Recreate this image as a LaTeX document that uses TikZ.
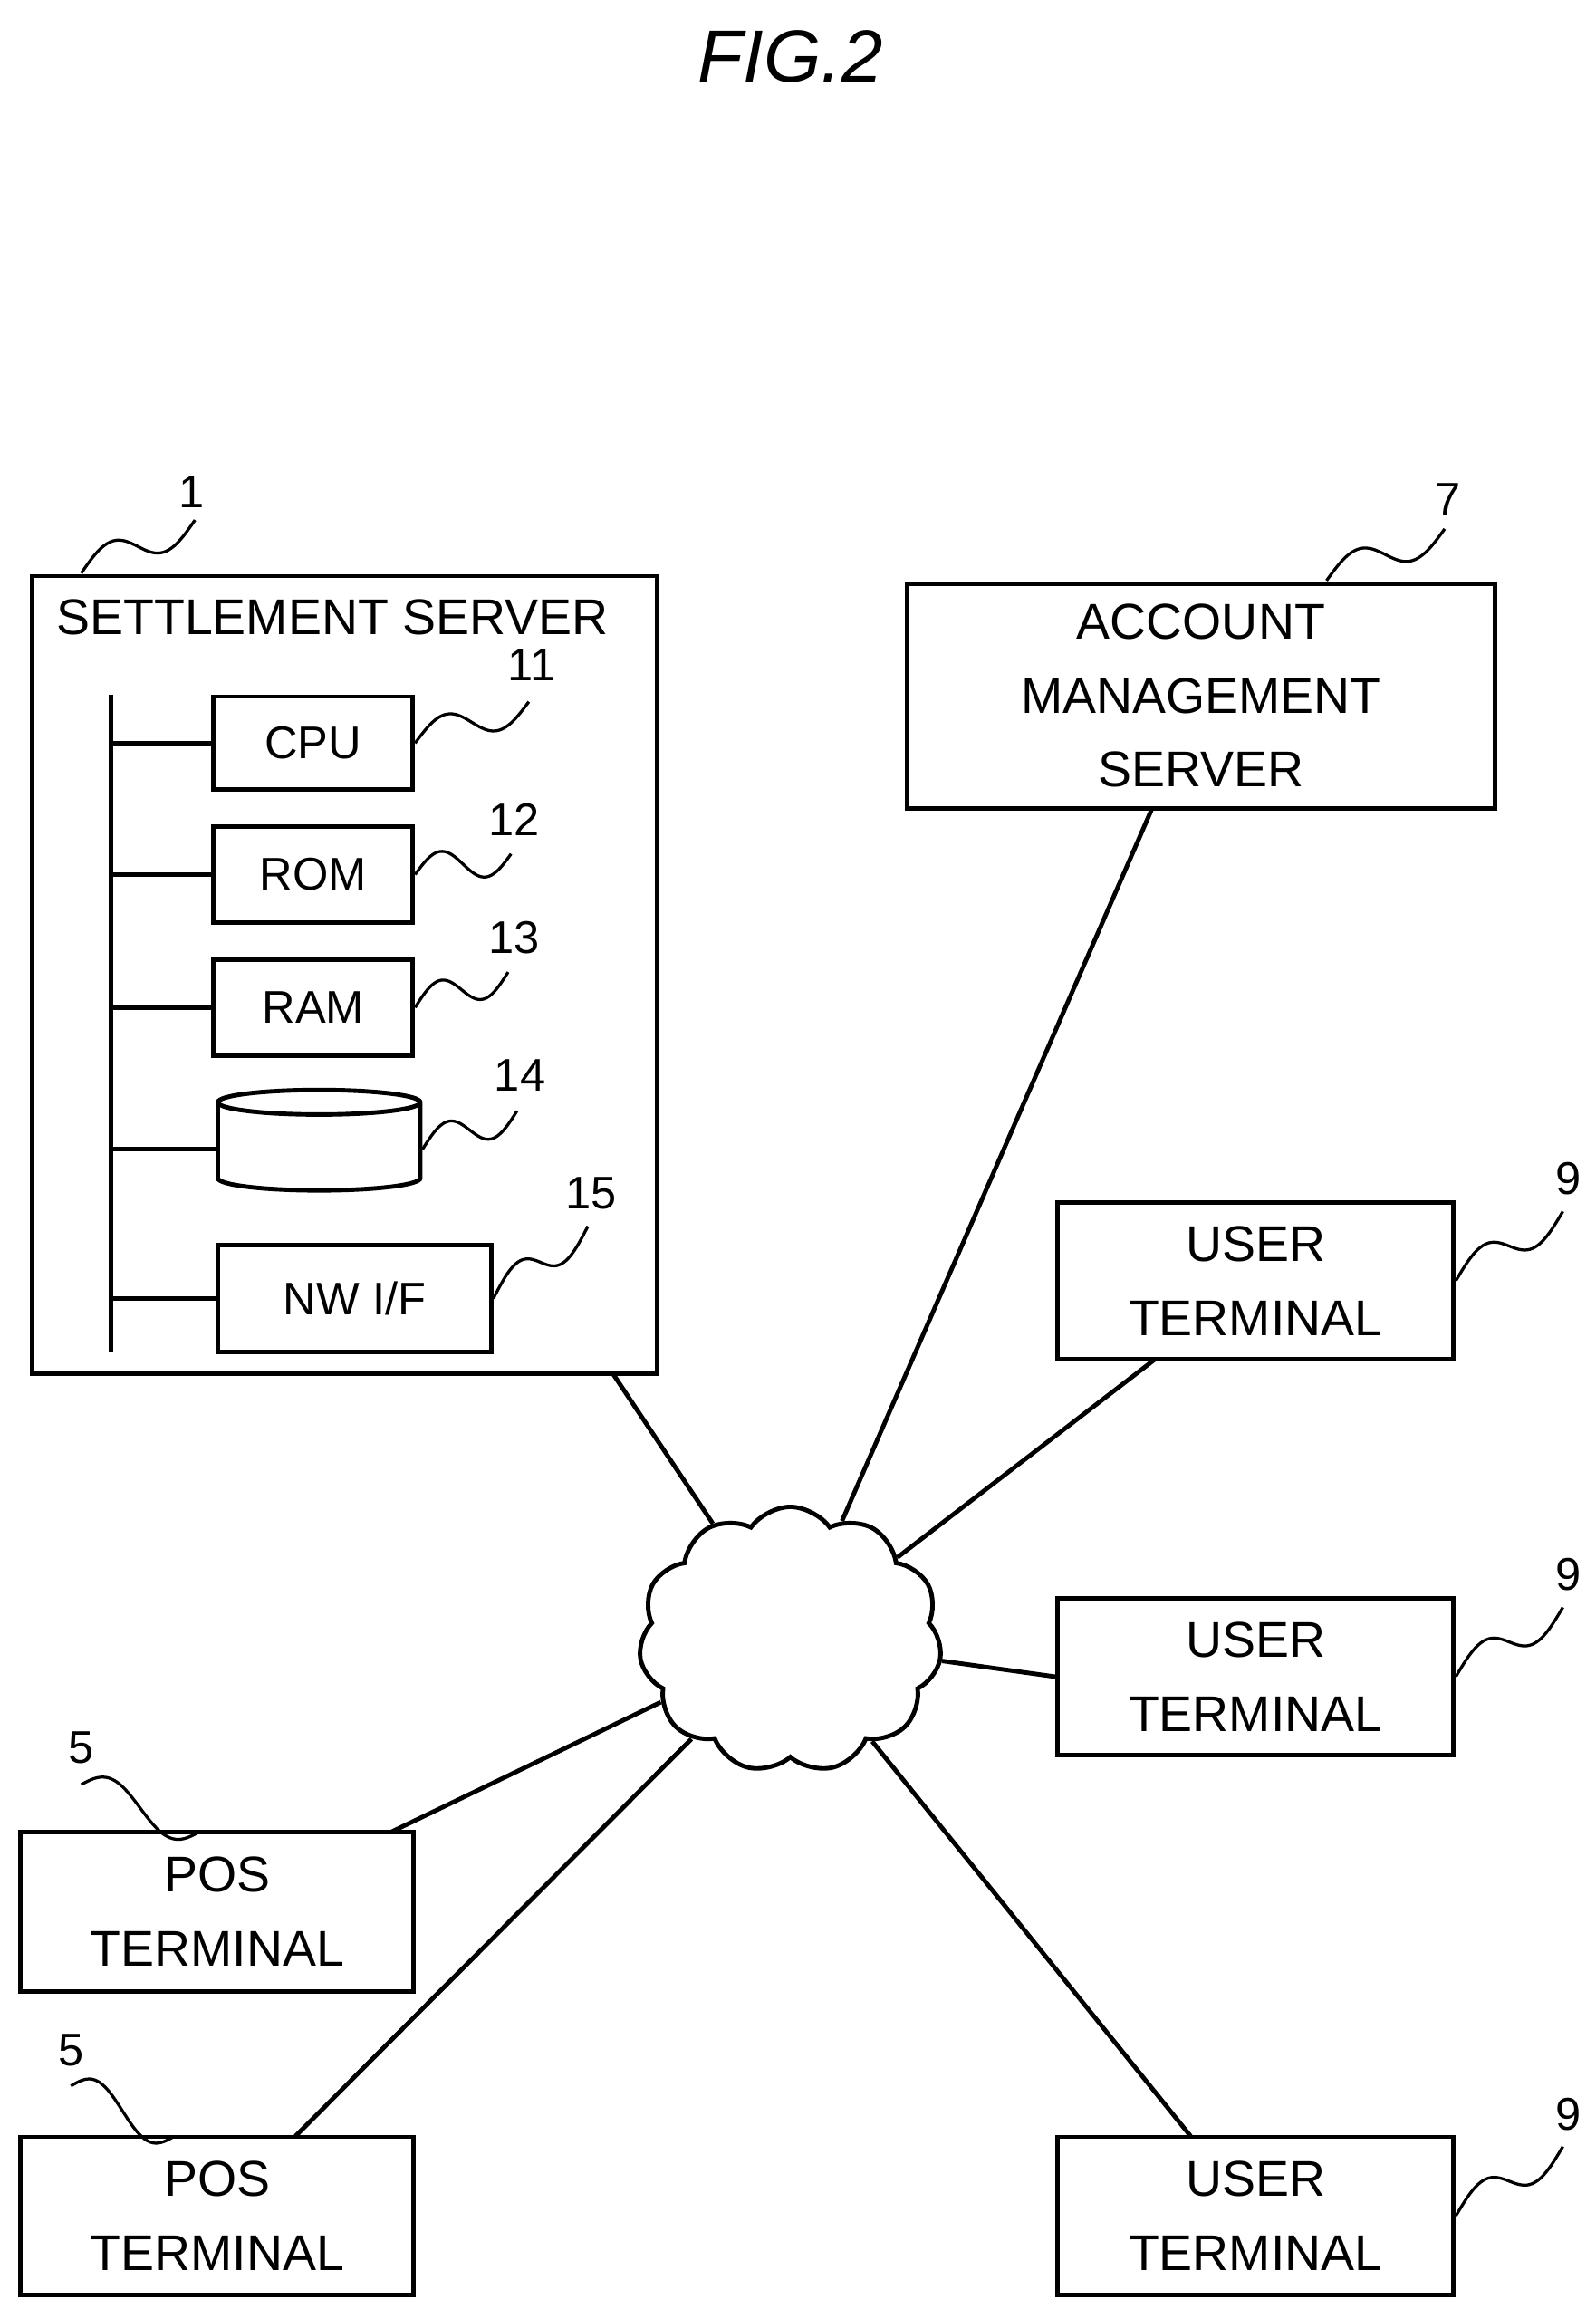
\documentclass[tikz,border=0pt]{standalone}
\usepackage{fontspec}
\setmainfont{Liberation Sans}
\usetikzlibrary{shapes.geometric, shapes.symbols, calc}

\tikzset{
  box/.style = {draw, line width=3pt, align=center, font=\fontsize{34}{50}\selectfont},
  part/.style = {draw, line width=3pt, font=\fontsize{31}{36}\selectfont},
  ref/.style = {font=\fontsize{31}{36}\selectfont},
  link/.style = {line width=3pt}
}
\newcommand{\wavy}[2]{\draw[line width=2pt] let \p1=(#1), \p2=(#2) in
  plot[variable=\t, domain=0:1, samples=40, smooth] ({\x1+(\x2-\x1)*\t}, {\y1+(\y2-\y1)*\t+12*sin(360*\t)});}

\begin{document}
\begin{tikzpicture}[x=1pt, y=-1pt]
\useasboundingbox (0,0) rectangle (1080,1563);
\node[font=\fontsize{50}{56}\selectfont\itshape] (title) at (535,38) {FIG.2};

% settlement server
\draw[link] (22,390) rectangle (445,930);
\node[ref, font=\fontsize{34}{36}\selectfont] (ss) at (225,418) {SETTLEMENT SERVER};
\coordinate (ssbot) at (415,930);
\draw[link] (75,470) -- (75,915);
\node[part, minimum width=135pt, minimum height=63pt] (cpu) at (212,503) {CPU};
\node[part, minimum width=135pt, minimum height=65pt] (rom) at (212,592) {ROM};
\node[part, minimum width=135pt, minimum height=65pt] (ram) at (212,682) {RAM};
\node[cylinder, shape border rotate=90, draw, line width=3pt, aspect=2.5,
  minimum width=137pt, minimum height=68pt] (hdd) at (216,778) {};
\node[part, minimum width=185pt, minimum height=72pt] (nwif) at (240,879) {NW I/F};
\foreach \n in {cpu, rom, ram, hdd, nwif}
  \draw[link] (75,0 |- \n.west) -- (\n.west);

% reference numbers
\node[ref] (r1) at (130,333) {1};
\node[ref] (r11) at (360,450) {11};
\node[ref] (r12) at (348,555) {12};
\node[ref] (r13) at (348,635) {13};
\node[ref] (r14) at (352,728) {14};
\node[ref] (r15) at (400,808) {15};
\wavy{55,388}{132,352}
\wavy{cpu.east}{358,475}
\wavy{rom.east}{346,578}
\wavy{ram.east}{344,658}
\wavy{hdd.east}{350,752}
\wavy{nwif.east}{398,830}

% account management server
\node[box, minimum width=398pt, minimum height=152pt] (ams) at (813,471)
  {ACCOUNT\\MANAGEMENT\\SERVER};
\node[ref] (r7) at (980,338) {7};
\wavy{898,393}{978,358}

% user terminals
\node[box, minimum width=268pt, minimum height=106pt] (ut1) at (850,867) {USER\\TERMINAL};
\node[box, minimum width=268pt, minimum height=106pt] (ut2) at (850,1135) {USER\\TERMINAL};
\node[box, minimum width=268pt, minimum height=107pt] (ut3) at (850,1500) {USER\\TERMINAL};
\foreach \u/\yy in {ut1/798, ut2/1066, ut3/1431} {
  \node[ref] at (1062,\yy) {9};
  \wavy{\u.east}{1058,\yy+22}
}

% POS terminals
\node[box, minimum width=266pt, minimum height=108pt] (pos1) at (147,1294) {POS\\TERMINAL};
\node[box, minimum width=266pt, minimum height=107pt] (pos2) at (147,1500) {POS\\TERMINAL};
\node[ref] (r5a) at (55,1183) {5};
\node[ref] (r5b) at (48,1388) {5};
\wavy{55,1208}{135,1240}
\wavy{48,1412}{118,1446}

% network
\node[cloud, draw, line width=3pt, cloud puffs=11, cloud puff arc=110, aspect=1.15,
  minimum width=205pt, minimum height=180pt] (net) at (535,1110) {};
\draw[link] (ssbot) -- (net);
\draw[link] (780,547) -- (net);
\draw[link] (782,920) -- (net);
\draw[link] (ut2.west) -- (net);
\draw[link] (806,1446) -- (net);
\draw[link] (265,1240) -- (net);
\draw[link] (200,1446) -- (net);
\end{tikzpicture}
\end{document}
